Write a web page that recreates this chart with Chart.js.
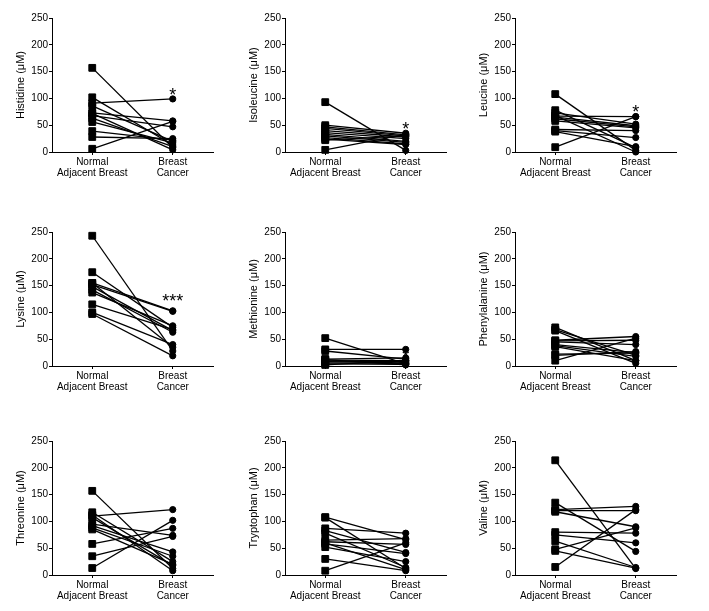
<!DOCTYPE html>
<html>
<head>
<meta charset="utf-8">
<script src="https://cdn.jsdelivr.net/npm/chart.js@4.4.1/dist/chart.umd.min.js"></script>
<style>
  body { margin: 0; background: #fff; }
  #wrap { position: relative; width: 709px; height: 611px; }
  #wrap canvas { position: absolute; }
</style>
</head>
<body>
<div id="wrap"></div>
<script>
// paired samples: normal adjacent tissue vs tumour, one line per patient
const categories = [['Normal', 'Adjacent Breast'], ['Breast', 'Cancer']]
const aminoAcids = ['Histidine', 'Isoleucine', 'Leucine', 'Lysine', 'Methionine', 'Phenylalanine', 'Threonine', 'Tryptophan', 'Valine']

const histidineNormal = [157, 102, 91, 86, 73, 68, 63, 56, 39, 28, 6, 72]
const histidineCancer = [8, 13, 99, 20, 58, 47, 10, 17, 22, 25, 57, 4]

const isoleucineNormal = [93, 50, 47, 44, 40, 36, 33, 30, 27, 24, 22, 4]
const isoleucineCancer = [3, 35, 32, 30, 28, 25, 20, 18, 15, 14, 30, 33]

const leucineNormal = [108, 78, 73, 67, 65, 62, 58, 42, 40, 38, 68, 9]
const leucineCancer = [3, 8, 52, 66, 49, 47, 45, 40, 27, 10, 0, 66]

const lysineNormal = [243, 175, 155, 152, 148, 142, 137, 115, 100, 97, 155]
const lysineCancer = [28, 72, 103, 102, 66, 63, 75, 68, 40, 19, 35]

const methionineNormal = [52, 31, 28, 13, 11, 9, 8, 6, 4, 2, 12]
const methionineCancer = [4, 31, 13, 15, 10, 8, 6, 5, 3, 10, 2]

const phenylalanineNormal = [72, 68, 66, 48, 47, 45, 40, 38, 36, 22, 10, 20]
const phenylalanineCancer = [10, 20, 5, 55, 48, 40, 25, 18, 10, 24, 52, 27]

const threonineNormal = [157, 117, 110, 107, 95, 92, 88, 85, 58, 35, 13, 112]
const threonineCancer = [12, 25, 122, 18, 74, 43, 35, 20, 87, 72, 102, 8]

const tryptophanNormal = [108, 107, 87, 83, 78, 65, 62, 60, 58, 52, 30, 8]
const tryptophanCancer = [66, 12, 78, 42, 14, 68, 57, 10, 40, 25, 8, 60]

const valineNormal = [214, 135, 122, 118, 120, 80, 75, 63, 48, 45, 15]
const valineCancer = [12, 44, 128, 90, 120, 78, 60, 14, 88, 13, 122]

const normalSets = [histidineNormal, isoleucineNormal, leucineNormal, lysineNormal, methionineNormal, phenylalanineNormal, threonineNormal, tryptophanNormal, valineNormal]
const cancerSets = [histidineCancer, isoleucineCancer, leucineCancer, lysineCancer, methionineCancer, phenylalanineCancer, threonineCancer, tryptophanCancer, valineCancer]

// significance marks above the cancer column
const stars = ['*', '*', '*', '***', '*', '', '', '', '']
const starValues = [114, 52, 82, 129, 26, null, null, null, null]

const yMax = 250
const yStep = 50

const FONT = '"Liberation Sans", Arial, sans-serif'
const axisX = [52, 285, 515]
const rowTop = [18, 232, 441]

const starPlugin = {
	id: 'stars',
	afterDatasetsDraw(chart, args, opts) {
		if (!opts.text) return
		const ctx = chart.ctx
		const fs = 18
		const x = chart.scales.x.getPixelForValue(1)
		const y = chart.scales.y.getPixelForValue(opts.value)
		ctx.save()
		ctx.fillStyle = '#000'
		ctx.font = fs + 'px ' + FONT
		ctx.textAlign = 'center'
		ctx.textBaseline = 'alphabetic'
		ctx.fillText(opts.text, x, y + fs * 0.58)
		ctx.restore()
	}
}

const wrap = document.getElementById('wrap')

aminoAcids.forEach((name, i) => {
	const col = i % 3
	const row = Math.floor(i / 3)
	const cv = document.createElement('canvas')
	cv.width = 208
	cv.height = 182
	cv.style.left = (axisX[col] - 41) + 'px'
	cv.style.top = (rowTop[row] - 8) + 'px'
	cv.style.width = '208px'
	cv.style.height = '182px'
	wrap.appendChild(cv)

	const normal = normalSets[i]
	const cancer = cancerSets[i]

	new Chart(cv, {
		type: 'line',
		data: {
			labels: categories,
			datasets: normal.map((v, k) => ({
				data: [v, cancer[k]],
				borderColor: '#000',
				backgroundColor: '#000',
				borderWidth: 1.3,
				pointStyle: ['rect', 'circle'],
				pointRadius: [4.8, 3.1],
				pointBorderWidth: 1,
				pointBorderColor: '#000',
				clip: false
			}))
		},
		options: {
			responsive: false,
			animation: false,
			events: [],
			layout: { padding: { top: 8, right: 6, left: 0, bottom: 0 } },
			plugins: {
				legend: { display: false },
				tooltip: { enabled: false },
				stars: { text: stars[i], value: starValues[i] }
			},
			scales: {
				x: {
					offset: true,
					grid: { offset: false, drawOnChartArea: false, tickLength: 3, color: '#000' },
					border: { color: '#000', width: 1 },
					ticks: { color: '#000', font: { family: FONT, size: 10, lineHeight: 1.05 }, padding: 2, maxRotation: 0 },
					afterFit(s) { s.height = 40 }
				},
				y: {
					min: 0,
					max: yMax,
					ticks: { stepSize: yStep, color: '#000', font: { family: FONT, size: 10 }, padding: 1 },
					grid: { drawOnChartArea: false, tickLength: 3, color: '#000' },
					border: { color: '#000', width: 1 },
					title: { display: true, text: name + ' (μM)', color: '#000', font: { family: FONT, size: 11 }, padding: { top: 3, bottom: 0 } },
					afterFit(s) { s.width = 41 }
				}
			}
		},
		plugins: [starPlugin]
	})
})
</script>
</body>
</html>
